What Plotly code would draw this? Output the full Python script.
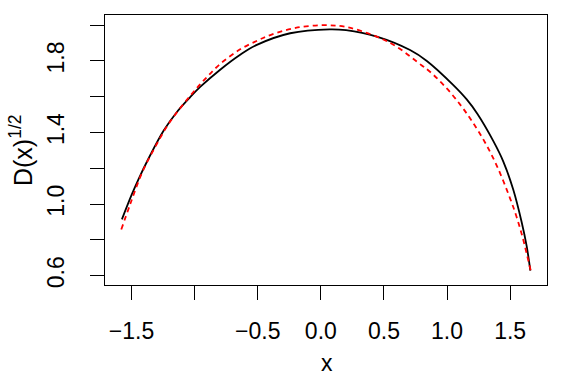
import plotly.graph_objects as go

# Values
black_x = [-1.576, -1.5, -1.444, -1.365, -1.246, -1.14, -1.035, -0.956, -0.8, -0.639,
           -0.507, -0.243, 0.07, 0.2, 0.443, 0.707, 0.84, 1.05, 1.156, 1.24, 1.367,
           1.446, 1.525, 1.591, 1.631, 1.66]
black_y = [0.915, 1.05, 1.14, 1.255, 1.41, 1.515, 1.598, 1.655, 1.75, 1.835,
           1.89, 1.955, 1.977, 1.972, 1.936, 1.861, 1.80, 1.665, 1.585, 1.505, 1.352,
           1.238, 1.08, 0.90, 0.765, 0.628]

red_x = [-1.581, -1.51, -1.417, -1.312, -1.2, -1.035, -0.916, -0.8, -0.639, -0.5, -0.4,
         -0.2, 0.02, 0.2, 0.443, 0.6, 0.8, 0.865, 1.0, 1.116, 1.2, 1.3, 1.4, 1.5,
         1.55, 1.6, 1.663]
red_y = [0.858, 1.0, 1.175, 1.32, 1.455, 1.605, 1.70, 1.782, 1.865, 1.915, 1.945,
         1.985, 2.0, 1.99, 1.936, 1.88, 1.775, 1.74, 1.645, 1.545, 1.461, 1.346, 1.206, 1.031,
         0.931, 0.811, 0.628]

x_ticks = [-1.5, -1.0, -0.5, 0.0, 0.5, 1.0, 1.5]
x_tick_labels = ["\u22121.5", "", "\u22120.5", "0.0", "0.5", "1.0", "1.5"]
y_ticks = [0.6, 0.8, 1.0, 1.2, 1.4, 1.6, 1.8, 2.0]
y_tick_labels = ["0.6", "", "1.0", "", "1.4", "", "1.8", ""]

FONT = "Liberation Sans, Arial, Helvetica, sans-serif"

fig = go.Figure()
fig.add_trace(go.Scatter(x=black_x, y=black_y, mode="lines",
                         line=dict(color="black", width=1.8, shape="spline", smoothing=1.0),
                         showlegend=False, hoverinfo="skip"))
fig.add_trace(go.Scatter(x=red_x, y=red_y, mode="lines",
                         line=dict(color="#ff0000", width=1.8, dash="5px,4px",
                                   shape="spline", smoothing=1.0),
                         showlegend=False, hoverinfo="skip"))

fig.update_layout(
    width=563, height=375,
    margin=dict(l=105, r=16, t=15, b=90),
    paper_bgcolor="white", plot_bgcolor="white",
    font=dict(family=FONT, size=23, color="black"),
    xaxis=dict(range=[-1.71, 1.792], tickvals=x_ticks, ticktext=x_tick_labels,
               ticks="outside", ticklen=14, tickwidth=1.3, tickcolor="black",
               showgrid=False, zeroline=False, showline=True, linecolor="black",
               linewidth=1.3, mirror=True, ticklabelstandoff=11,
               tickfont=dict(size=23)),
    yaxis=dict(range=[0.548, 2.057], tickvals=y_ticks, ticktext=y_tick_labels,
               ticks="outside", ticklen=14, tickwidth=1.3, tickcolor="black",
               showgrid=False, zeroline=False, showline=True, linecolor="black",
               linewidth=1.3, mirror=True, tickangle=-90, ticklabelstandoff=17,
               tickfont=dict(size=23)),
    annotations=[
        dict(text="x", xref="paper", yref="paper", x=0.502, y=-0.289,
             xanchor="center", yanchor="middle", showarrow=False,
             font=dict(size=23)),
        dict(text="D(x)<sup>1/2</sup>", xref="paper", yref="paper", x=-0.19, y=0.5,
             xanchor="center", yanchor="middle", textangle=-90, showarrow=False,
             font=dict(size=25)),
    ],
)

fig.write_html("out.html")
